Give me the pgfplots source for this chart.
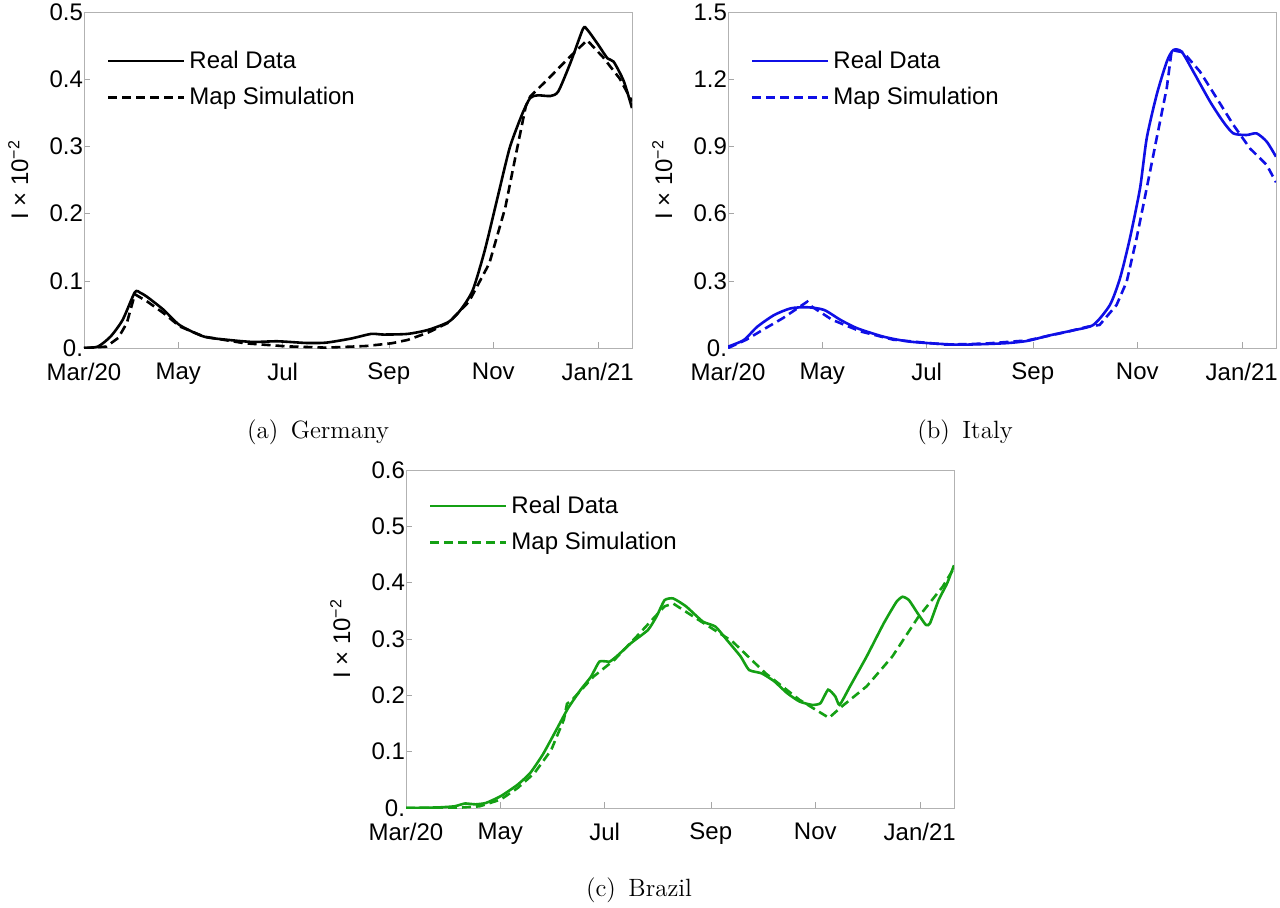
\documentclass[border=0pt]{standalone}
\usepackage{pgfplots}
\pgfplotsset{compat=1.18}
\usepackage{fontspec}
\newfontfamily\hv{Liberation Sans}
\definecolor{myblue}{RGB}{15,15,230}
\definecolor{mygreen}{RGB}{20,160,20}

\pgfplotstableread{
x y
0 0
8 0.002
15.5 0.017
22.6 0.042
29.7 0.083
33 0.082
36.9 0.076
46.4 0.057
55.9 0.034
70 0.017
84.5 0.012
98.7 0.009
113 0.010
129.7 0.0075
141.5 0.008
155.8 0.014
167.7 0.021
174.9 0.020
189 0.021
201 0.027
213 0.039
220 0.057
227 0.086
234 0.145
241.5 0.224
248.6 0.298
255.7 0.347
260.5 0.372
265 0.376
272.4 0.375
277 0.382
284.3 0.426
291.4 0.475
293.8 0.474
299.8 0.453
305.7 0.431
309.3 0.426
315.2 0.397
320 0.357
}\deReal

\pgfplotstableread{
x y
0 0
13 0.002
20 0.015
25 0.037
29.7 0.080
37 0.069
46.4 0.052
56 0.032
70 0.017
94 0.007
118 0.0025
141.5 0.0005
165 0.003
179.6 0.007
189 0.012
201 0.023
213 0.038
224.8 0.069
236.7 0.126
246 0.209
253.4 0.303
258 0.360
260.5 0.374
272.4 0.404
282 0.429
293.8 0.458
303 0.433
312.8 0.401
320 0.367
}\deMap

\pgfplotstableread{
x y
0 0.006
9.3 0.036
17.1 0.095
26.9 0.147
36.6 0.177
46.3 0.182
56.1 0.17
65.8 0.125
75.5 0.088
91.1 0.05
106.7 0.028
133.9 0.015
161.2 0.021
175 0.032
187 0.055
201 0.078
213.3 0.103
223 0.192
228.9 0.311
234.7 0.49
240.6 0.713
244.5 0.936
250.3 1.13
256.2 1.278
260 1.33
264.9 1.323
271.7 1.234
281.5 1.10
289.2 1.01
295.1 0.958
302.9 0.951
308.7 0.958
314.6 0.921
320 0.854
}\itReal

\pgfplotstableread{
x y
0 0
10.7 0.037
20.3 0.081
32 0.133
46.3 0.207
48.9 0.185
60.8 0.126
77.4 0.074
96.5 0.037
127.5 0.015
151 0.020
175 0.034
199 0.074
210 0.095
217 0.103
226.9 0.192
232.8 0.296
238.6 0.49
244.5 0.713
250.3 0.936
256.2 1.16
259.1 1.33
265.9 1.32
275.6 1.234
285.4 1.115
295.1 0.996
304.8 0.891
314.6 0.817
320 0.74
}\itMap

\pgfplotstableread{
x y
0 0
18.4 0.001
28.3 0.003
34.4 0.008
40.6 0.0065
46.7 0.009
55.3 0.021
65 0.041
72.5 0.062
79.9 0.095
87.3 0.136
94.6 0.177
102 0.21
108 0.233
113 0.26
119 0.26
124 0.272
131.5 0.293
141.3 0.316
146.3 0.34
151 0.369
156 0.372
163.5 0.358
173.3 0.331
180.7 0.322
188 0.296
195.4 0.269
200.3 0.245
207.7 0.239
215 0.225
222.5 0.204
229.8 0.189
237.2 0.183
242 0.186
246.5 0.21
250.7 0.198
253.2 0.183
259.3 0.216
269 0.269
279 0.328
286.4 0.366
290 0.375
293.7 0.369
298.7 0.346
303.6 0.325
306 0.328
311 0.369
316 0.399
320 0.431
}\brReal

\pgfplotstableread{
x y
0 0
28.3 0
43 0.003
55.3 0.015
65 0.035
75 0.062
84.8 0.103
92.2 0.157
94 0.185
97 0.192
109.4 0.233
121.7 0.263
136.4 0.31
151 0.358
156 0.363
170.8 0.334
190.5 0.296
210 0.239
229.8 0.192
247 0.16
254.4 0.18
269 0.216
284 0.269
298.7 0.337
313.4 0.393
320 0.426
}\brMap

\pgfplotsset{
  myaxis/.style={
    scale only axis, width=274pt, height=168pt, anchor=south west,
    xmin=0, xmax=320, ymin=0,
    xtick={0,55,116,178,239,300},
    xticklabels={Mar/20,May,Jul,Sep,Nov,Jan/21},
    tick pos=left, tick align=inside, major tick length=3pt,
    axis line style={gray!60},
    tick style={gray!70},
    tick label style={font=\hv\fontsize{12}{14}\selectfont, text=black},
    xticklabel style={yshift=-4pt},
    yticklabel style={xshift=3pt},
    ylabel={I × 10\textsuperscript{−2}},
    ylabel style={font=\hv\fontsize{12}{14}\selectfont, at={(axis description cs:-0.12,0.5)}, anchor=center},
    legend style={draw=none, fill=none, at={(axis description cs:0.03,0.91)}, anchor=north west,
      font=\hv\fontsize{12}{14}\selectfont, row sep=4pt},
    legend cell align=left,
    legend image code/.code={\draw[##1] (0pt,0pt) -- (35pt,0pt); \path (0pt,0pt) -- (38pt,0pt);},
  },
  solidl/.style={line width=1.3pt},
  dashl/.style={line width=1.3pt, dash pattern=on 4.5pt off 2.5pt},
}

\begin{document}
\begin{tikzpicture}
\path[use as bounding box] (0,0) rectangle (640pt,453.5pt);

\begin{axis}[myaxis, at={(42pt,279.5pt)}, ymax=0.5,
  ytick={0,0.1,0.2,0.3,0.4,0.5}, yticklabels={0.,0.1,0.2,0.3,0.4,0.5}]
\addplot[solidl, black, smooth, tension=0.4] table[x=x,y=y] {\deReal};
\addplot[dashl, black] table[x=x,y=y] {\deMap};
\legend{Real Data, Map Simulation}
\end{axis}

\begin{axis}[myaxis, at={(364pt,279.5pt)}, ymax=1.5,
  ytick={0,0.3,0.6,0.9,1.2,1.5}, yticklabels={0.,0.3,0.6,0.9,1.2,1.5}]
\addplot[solidl, myblue, smooth, tension=0.4] table[x=x,y=y] {\itReal};
\addplot[dashl, myblue] table[x=x,y=y] {\itMap};
\legend{Real Data, Map Simulation}
\end{axis}

\begin{axis}[myaxis, at={(203pt,49.5pt)}, height=169pt, ymax=0.6,
  legend style={at={(axis description cs:0.03,0.948)}},
  ytick={0,0.1,0.2,0.3,0.4,0.5,0.6}, yticklabels={0.,0.1,0.2,0.3,0.4,0.5,0.6}]
\addplot[solidl, mygreen, smooth, tension=0.3] table[x=x,y=y] {\brReal};
\addplot[dashl, mygreen] table[x=x,y=y] {\brMap};
\legend{Real Data, Map Simulation}
\end{axis}

\node[font=\fontsize{12.5}{15}\selectfont] at (159pt,237.5pt) {(a)\hspace{0.5em}Germany};
\node[font=\fontsize{12.5}{15}\selectfont] at (482.5pt,237.5pt) {(b)\hspace{0.5em}Italy};
\node[font=\fontsize{12.5}{15}\selectfont] at (319.5pt,8.5pt) {(c)\hspace{0.5em}Brazil};
\end{tikzpicture}
\end{document}
